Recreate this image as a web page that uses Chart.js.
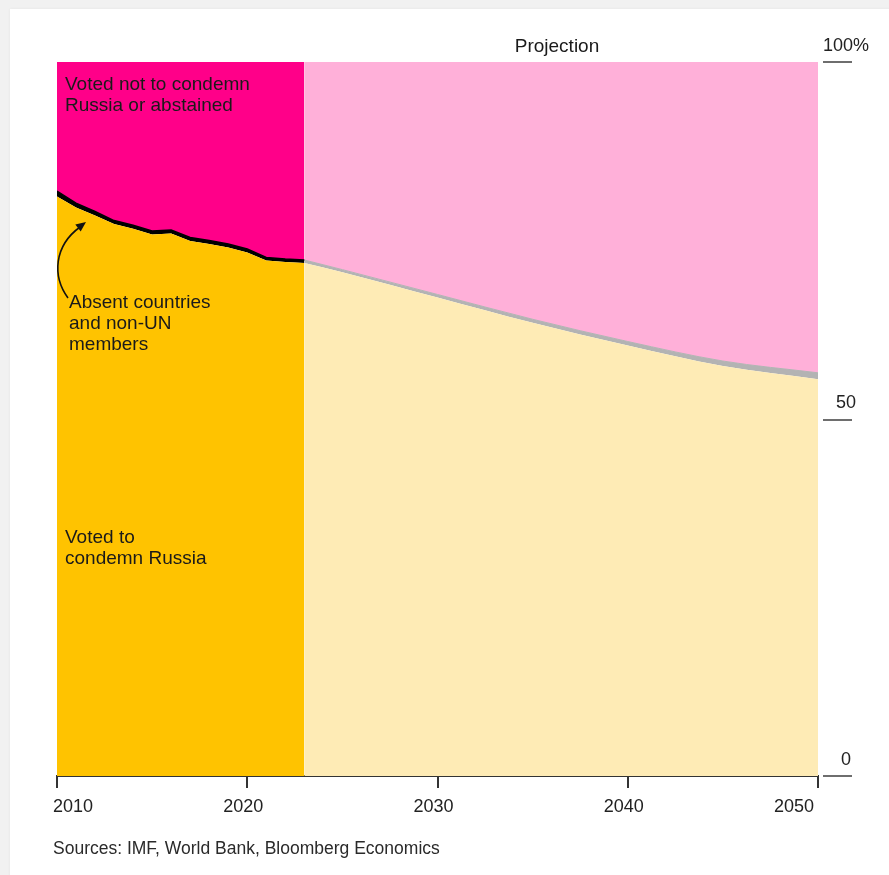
<!DOCTYPE html>
<html>
<head>
<meta charset="utf-8">
<script src="https://cdn.jsdelivr.net/npm/chart.js@4.4.1/dist/chart.umd.min.js"></script>
<style>
  html, body { margin: 0; padding: 0; width: 889px; height: 875px; overflow: hidden; background: #f1f1f1; }
  #card { position: absolute; left: 10px; top: 9px; width: 900px; height: 900px; background: #ffffff; box-shadow: 0 0 3px rgba(0,0,0,0.06); }
  #wrap { position: absolute; left: 0; top: 0; width: 889px; height: 875px; }
</style>
</head>
<body>
<div id="card"></div>
<div id="wrap"><canvas id="c" width="889" height="875"></canvas></div>
<script>
// ---- Data (share of world GDP, %) ----
const histYears        = [2010, 2011, 2012, 2013, 2014, 2015, 2016, 2017, 2018, 2019, 2020, 2021, 2022, 2023];
const histCondemn      = [81.16, 79.62, 78.50, 77.31, 76.65, 75.84, 75.98, 74.93, 74.51, 74.02, 73.32, 72.20, 71.99, 71.85];
const histAbsent       = [0.77, 0.63, 0.56, 0.49, 0.49, 0.49, 0.49, 0.49, 0.49, 0.49, 0.49, 0.42, 0.42, 0.42];
const histNotCondemn   = [18.07, 19.75, 20.94, 22.20, 22.86, 23.67, 23.53, 24.58, 25.00, 25.49, 26.19, 27.38, 27.59, 27.73];

const projYears        = [2023, 2025, 2030, 2035, 2040, 2045, 2050];
const projCondemn      = [71.85, 70.57, 67.02, 63.48, 60.29, 57.42, 55.57];
const projAbsent       = [0.42, 0.35, 0.42, 0.49, 0.56, 0.70, 0.90];
const projNotCondemn   = [27.73, 29.08, 32.56, 36.03, 39.15, 41.88, 43.53];

const xTicks = [2010, 2020, 2030, 2040, 2050];
const yTicks = [0, 50, 100];

const FONT = "'Liberation Sans', Arial, Helvetica, sans-serif";
const TEXT = '#1a1a1a';

function pts(xs, ys) { return xs.map((x, i) => ({ x: x, y: ys[i] })); }

function ds(label, xs, ys, stack, color, fill, extra) {
  return Object.assign({
    label: label,
    data: pts(xs, ys),
    stack: stack,
    backgroundColor: color,
    borderColor: color,
    borderWidth: 0,
    pointRadius: 0,
    pointHoverRadius: 0,
    fill: fill,
    tension: 0
  }, extra || {});
}

const smooth = { cubicInterpolationMode: 'monotone' };

const annotations = {
  id: 'annotations',
  afterDraw(chart) {
    const ctx = chart.ctx;
    const ys = chart.scales.y;
    const area = chart.chartArea;
    ctx.save();
    // y tick underlines
    ctx.strokeStyle = '#6e6e6e';
    ctx.lineWidth = 2;
    yTicks.forEach(v => {
      const py = Math.round(ys.getPixelForValue(v)) + (v === 50 ? 1 : 0);
      ctx.beginPath();
      ctx.moveTo(area.right + 5, py);
      ctx.lineTo(area.right + 34, py);
      ctx.stroke();
    });
    // texts
    ctx.fillStyle = TEXT;
    ctx.textBaseline = 'alphabetic';
    ctx.font = '19px ' + FONT;
    ctx.textAlign = 'center';
    ctx.fillText('Projection', 557, 52);
    ctx.textAlign = 'left';
    ctx.fillText('Voted not to condemn', 65, 90);
    ctx.fillText('Russia or abstained', 65, 111);
    ctx.fillText('Absent countries', 69, 308);
    ctx.fillText('and non-UN', 69, 329);
    ctx.fillText('members', 69, 350);
    ctx.fillText('Voted to', 65, 543);
    ctx.fillText('condemn Russia', 65, 564);
    ctx.font = '17.5px ' + FONT;
    ctx.fillStyle = '#2a2a2a';
    ctx.fillText('Sources: IMF, World Bank, Bloomberg Economics', 53, 854);
    // arrow
    ctx.strokeStyle = '#111';
    ctx.fillStyle = '#111';
    ctx.lineWidth = 1.6;
    ctx.beginPath();
    ctx.moveTo(68, 298);
    ctx.bezierCurveTo(52, 276, 54, 246, 80, 227);
    ctx.stroke();
    // arrowhead
    const tipX = 86, tipY = 222;
    const ang = Math.atan2(tipY - 228, tipX - 78);
    const len = 10, half = 4.5;
    ctx.beginPath();
    ctx.moveTo(tipX, tipY);
    ctx.lineTo(tipX - len * Math.cos(ang) + half * Math.sin(ang), tipY - len * Math.sin(ang) - half * Math.cos(ang));
    ctx.lineTo(tipX - len * Math.cos(ang) - half * Math.sin(ang), tipY - len * Math.sin(ang) + half * Math.cos(ang));
    ctx.closePath();
    ctx.fill();
    ctx.restore();
  }
};

new Chart(document.getElementById('c'), {
  type: 'line',
  data: {
    datasets: [
      ds('Voted to condemn Russia', histYears, histCondemn, 'hist', '#FFC300', 'origin'),
      ds('Absent countries and non-UN members', histYears, histAbsent, 'hist', '#000000', '-1', { borderWidth: 1.4, borderColor: '#000' }),
      ds('Voted not to condemn Russia or abstained', histYears, histNotCondemn, 'hist', '#FF0089', '-1'),
      ds('Voted to condemn Russia (projection)', projYears, projCondemn, 'proj', '#FEEBB5', 'origin', smooth),
      ds('Absent countries and non-UN members (projection)', projYears, projAbsent, 'proj', '#B3B3B3', '-1', Object.assign({ borderWidth: 1, borderColor: '#B3B3B3' }, smooth)),
      ds('Voted not to condemn Russia or abstained (projection)', projYears, projNotCondemn, 'proj', '#FFB0D9', '-1', smooth)
    ]
  },
  options: {
    responsive: false,
    animation: false,
    events: [],
    layout: { padding: { left: 57, top: 62, right: 0, bottom: 0 } },
    plugins: { legend: { display: false }, tooltip: { enabled: false } },
    scales: {
      x: {
        type: 'linear',
        min: 2010,
        max: 2050,
        afterFit(scale) { scale.height = 99; },
        afterBuildTicks(scale) { scale.ticks = xTicks.map(v => ({ value: v })); },
        grid: { display: true, drawOnChartArea: false, drawTicks: true, tickLength: 12, color: '#333', lineWidth: 2 },
        border: { display: true, color: '#333', width: 2 },
        ticks: {
          align: 'inner',
          labelOffset: -4,
          padding: 8,
          color: '#222',
          font: { family: FONT, size: 18 },
          maxRotation: 0,
          callback: v => String(v)
        }
      },
      y: {
        position: 'right',
        stacked: true,
        min: 0,
        max: 100,
        afterFit(scale) { scale.width = 71; },
        afterBuildTicks(scale) { scale.ticks = yTicks.map(v => ({ value: v })); },
        grid: { display: false },
        border: { display: false },
        ticks: {
          crossAlign: 'center',
          padding: -3,
          labelOffset: -16,
          color: '#222',
          font: { family: FONT, size: 18 },
          callback: v => (v === 100 ? '100%' : String(v))
        }
      }
    }
  },
  plugins: [annotations]
});
</script>
</body>
</html>
